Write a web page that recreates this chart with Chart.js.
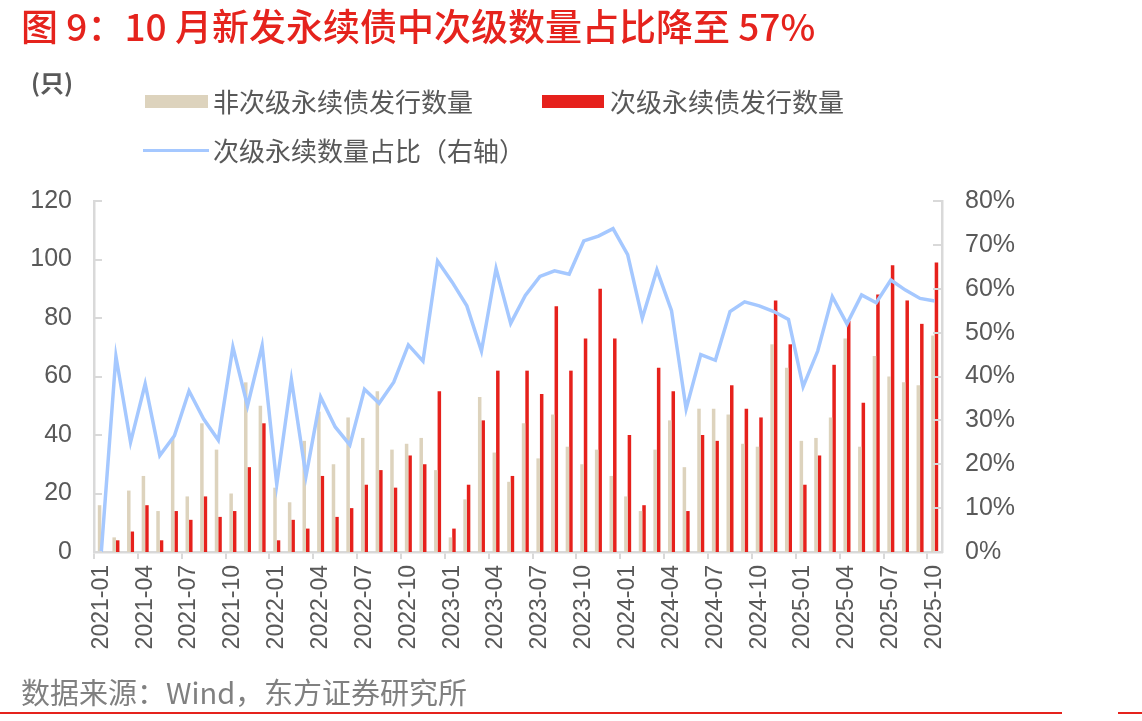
<!DOCTYPE html>
<html>
<head>
<meta charset="utf-8">
<script src="https://cdn.jsdelivr.net/npm/chart.js@4.4.1/dist/chart.umd.min.js"></script>
<style>
  html, body { margin: 0; padding: 0; background: #fff; }
  #page { position: relative; width: 1142px; height: 721px; overflow: hidden; font-family: "Noto Sans CJK SC", "Liberation Sans", sans-serif; }
  #chartBox { position: absolute; left: 0; top: 0; width: 1142px; height: 721px; }
  .title { position: absolute; left: 21px; top: 1px; font-size: 37px; font-weight: 500; color: #e5231d; white-space: nowrap; line-height: 48px; }
  .unit { position: absolute; left: 31px; top: 66px; font-size: 24px; font-weight: bold; color: #595959; line-height: 32px; }
  .lg { position: absolute; font-size: 26px; color: #595959; white-space: nowrap; line-height: 34px; }
  .sw { position: absolute; }
  .src { position: absolute; left: 21px; top: 672px; font-size: 29px; color: #808080; white-space: nowrap; line-height: 38px; }
  .rule { position: absolute; top: 712px; height: 2px; background: #e5231d; }
</style>
</head>
<body>
<div id="page">
  <div id="chartBox"><canvas id="myChart" width="1142" height="721"></canvas></div>
  <div class="title">图 9：10 月新发永续债中次级数量占比降至 57%</div>
  <div class="unit">(只)</div>

  <div class="sw" style="left:145px; top:95px; width:63px; height:13px; background:#ddd3bd;"></div>
  <div class="lg" style="left:213px; top:84px;">非次级永续债发行数量</div>
  <div class="sw" style="left:542px; top:95px; width:62px; height:13px; background:#e6211c;"></div>
  <div class="lg" style="left:610px; top:84px;">次级永续债发行数量</div>
  <div class="sw" style="left:143px; top:149px; width:66px; height:3px; background:#a5c8ff;"></div>
  <div class="lg" style="left:213px; top:133px;">次级永续数量占比（右轴）</div>

  <div class="src">数据来源：Wind，东方证券研究所</div>
  <div class="rule" style="left:0; width:1062px;"></div>
  <div class="rule" style="left:1118px; width:24px;"></div>
</div>

<script>
// 月份
var months = [
  '2021-01','2021-02','2021-03','2021-04','2021-05','2021-06','2021-07','2021-08','2021-09','2021-10','2021-11','2021-12',
  '2022-01','2022-02','2022-03','2022-04','2022-05','2022-06','2022-07','2022-08','2022-09','2022-10','2022-11','2022-12',
  '2023-01','2023-02','2023-03','2023-04','2023-05','2023-06','2023-07','2023-08','2023-09','2023-10','2023-11','2023-12',
  '2024-01','2024-02','2024-03','2024-04','2024-05','2024-06','2024-07','2024-08','2024-09','2024-10','2024-11','2024-12',
  '2025-01','2025-02','2025-03','2025-04','2025-05','2025-06','2025-07','2025-08','2025-09','2025-10'
];

// 非次级永续债发行数量（只）
var nonSubCount = [
  16, 5, 21, 26, 14, 39, 19, 44, 35, 20, 58, 50,
  22, 17, 38, 48, 30, 46, 39, 55, 35, 37, 39, 28,
  5, 18, 53, 34, 24, 44, 32, 47, 36, 30, 35, 26,
  19, 14, 35, 45, 29, 49, 49, 47, 37, 36, 71, 63,
  38, 39, 46, 73, 36, 67, 60, 58, 57, 74
];

// 次级永续债发行数量（只）
var subCount = [
  0, 4, 7, 16, 4, 14, 11, 19, 12, 14, 29, 44,
  4, 11, 8, 26, 12, 15, 23, 28, 22, 33, 30, 55,
  8, 23, 45, 62, 26, 62, 54, 84, 62, 73, 90, 73,
  40, 16, 63, 55, 14, 40, 38, 57, 49, 46, 86, 71,
  23, 33, 64, 79, 51, 88, 98, 86, 78, 99
];

// 次级永续数量占比（%，右轴）
var subShare = [
  0, 44.6, 25.0, 38.3, 22.0, 26.5, 36.7, 30.3, 25.5, 46.7, 33.3, 47.0,
  15.4, 39.3, 17.3, 35.3, 28.5, 24.4, 37.1, 33.9, 38.7, 47.2, 43.5, 66.3,
  61.5, 56.1, 45.8, 64.6, 52.1, 58.5, 62.8, 64.1, 63.3, 70.9, 72.0, 73.7,
  67.8, 53.3, 64.3, 55.0, 32.6, 45.0, 43.7, 54.8, 57.0, 56.1, 54.8, 53.0,
  37.7, 45.8, 58.2, 52.0, 58.6, 56.8, 62.0, 59.7, 57.8, 57.2
];

var leftTicks = { min: 0, max: 120, step: 20 };
var rightTicks = { min: 0, max: 80, step: 10 };

var axisGrey = '#d9d9d9';
var textGrey = '#595959';

Chart.defaults.font.family = '"Liberation Sans", Arial, sans-serif';
Chart.defaults.color = textGrey;

// 纵轴向内的小刻度
var innerTicks = {
  id: 'innerTicks',
  afterDraw: function(chart) {
    var c = chart.ctx, a = chart.chartArea;
    c.save();
    c.strokeStyle = axisGrey;
    c.lineWidth = 2;
    chart.scales.y.ticks.forEach(function(t) {
      var py = Math.round(chart.scales.y.getPixelForValue(t.value));
      c.beginPath(); c.moveTo(a.left, py); c.lineTo(a.left + 8, py); c.stroke();
    });
    chart.scales.y1.ticks.forEach(function(t) {
      var py = Math.round(chart.scales.y1.getPixelForValue(t.value));
      c.beginPath(); c.moveTo(a.right - 9, py); c.lineTo(a.right, py); c.stroke();
    });
    c.restore();
  }
};

var ctx = document.getElementById('myChart').getContext('2d');
var myChart = new Chart(ctx, {
  type: 'bar',
  data: {
    labels: months,
    datasets: [
      {
        type: 'line',
        label: '次级永续数量占比（右轴）',
        data: subShare,
        yAxisID: 'y1',
        borderColor: '#a5c8ff',
        borderWidth: 3.5,
        pointRadius: 0,
        tension: 0,
        order: 0
      },
      {
        label: '非次级永续债发行数量',
        data: nonSubCount,
        backgroundColor: '#ddd3bd',
        yAxisID: 'y',
        categoryPercentage: 0.48,
        barPercentage: 1.0,
        order: 1
      },
      {
        label: '次级永续债发行数量',
        data: subCount,
        backgroundColor: '#e6211c',
        yAxisID: 'y',
        categoryPercentage: 0.48,
        barPercentage: 1.0,
        order: 1
      }
    ]
  },
  options: {
    responsive: false,
    animation: false,
    devicePixelRatio: 1,
    layout: { padding: { top: 201, bottom: 49, left: 0, right: 0 } },
    plugins: { legend: { display: false }, tooltip: { enabled: false } },
    scales: {
      x: {
        offset: true,
        grid: {
          offset: true,
          drawOnChartArea: false,
          drawTicks: true,
          tickLength: 7,
          lineWidth: 2,
          color: function(c) { return c.index % 3 === 0 ? axisGrey : 'rgba(0,0,0,0)'; }
        },
        border: { color: axisGrey, width: 2.5 },
        ticks: {
          autoSkip: false,
          minRotation: 90,
          maxRotation: 90,
          padding: 6,
          font: { size: 23 },
          color: textGrey,
          callback: function(v, i) { return i % 3 === 0 ? this.getLabelForValue(v) : ''; }
        },
        afterFit: function(s) { s.height = 120; }
      },
      y: {
        position: 'left',
        min: leftTicks.min,
        max: leftTicks.max,
        grid: { display: false, drawTicks: false },
        border: { color: axisGrey, width: 2.5 },
        ticks: { stepSize: leftTicks.step, padding: 22, font: { size: 25 }, color: textGrey },
        afterFit: function(s) { s.width = 94; }
      },
      y1: {
        position: 'right',
        min: rightTicks.min,
        max: rightTicks.max,
        grid: { display: false, drawTicks: false },
        border: { color: axisGrey, width: 2.5 },
        ticks: {
          stepSize: rightTicks.step,
          padding: 23,
          font: { size: 25 },
          color: textGrey,
          callback: function(v) { return v + '%'; }
        },
        afterFit: function(s) { s.width = 200; }
      }
    }
  },
  plugins: [innerTicks]
});
</script>
</body>
</html>
